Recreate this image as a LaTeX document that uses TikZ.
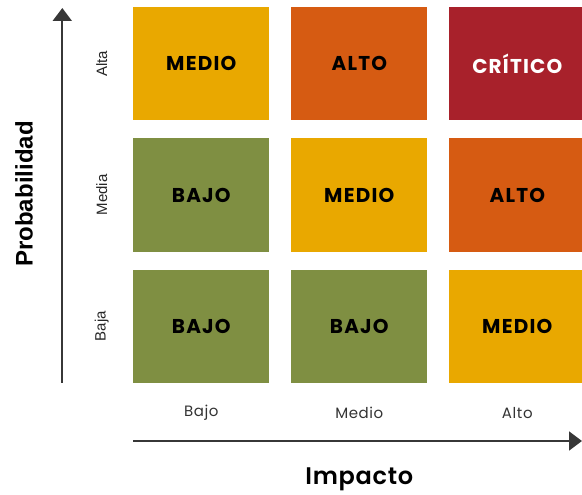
\documentclass[tikz,border=0pt]{standalone}
\usepackage{fontspec}
\setmainfont{Poppins}
\newfontfamily\arialfont{Liberation Sans}
\newfontfamily\mediumfont{Poppins SemiBold}[LetterSpace=3]
\newfontfamily\cellfont{Poppins}[LetterSpace=6]
\newfontfamily\tickfont{Poppins}[LetterSpace=4]
\usetikzlibrary{arrows.meta, positioning}
\definecolor{riskyellow}{RGB}{233,168,0}
\definecolor{riskorange}{RGB}{214,91,18}
\definecolor{riskred}{RGB}{168,33,43}
\definecolor{riskgreen}{RGB}{127,143,66}
\definecolor{axisgray}{RGB}{55,55,55}

\tikzset{
	cell/.style={minimum width=136pt, minimum height=113pt, inner sep=0pt,
		font=\cellfont\fontsize{20}{22}\selectfont\bfseries},
	ticklabel/.style={font=\tickfont\fontsize{15}{17}\selectfont, text=black!80},
	problabel/.style={font=\arialfont\fontsize{15}{17}\selectfont, rotate=90, text=black!85},
	axisline/.style={axisgray, line width=2pt, -{Triangle[width=19pt,length=13pt]}}
}

\begin{document}
\begin{tikzpicture}[x=1pt, y=-1pt]
		\useasboundingbox (0,0) rectangle (582,495);
		
		% cells: column/row/colour/text colour/label
		\foreach \c/\r/\fillc/\txtc/\txt/\name in {
			1/1/riskyellow/black/MEDIO/a11, 2/1/riskorange/black/ALTO/a12, 3/1/riskred/white/CRÍTICO/a13,
			1/2/riskgreen/black/BAJO/a21, 2/2/riskyellow/black/MEDIO/a22, 3/2/riskorange/black/ALTO/a23,
			1/3/riskgreen/black/BAJO/a31, 2/3/riskgreen/black/BAJO/a32, 3/3/riskyellow/black/MEDIO/a33}{
			\node [cell, fill=\fillc, text=\txtc] (\name) at ({43.3+158*\c},{-67.6+131.3*\r}) {\txt};
		}
		
		% axes
		\coordinate (yfoot) at (62.3,382.7);
		\coordinate (ytip) at (62.3,8);
		\coordinate (xfoot) at (133.3,441);
		\coordinate (xtip) at (582,441);
		\draw [axisline] (yfoot) -- (ytip);
		\draw [axisline] (xfoot) -- (xtip);
		
		\node [problabel] (alta) at (101.7,63.7) {Alta};
		\node [problabel] (media) at (101.7,195) {Media};
		\node [problabel] (baja) at (101.7,326.3) {Baja};
		
		\node [ticklabel] (bajo) at (201.3,412.7) {Bajo};
		\node [ticklabel] (medio) at (359.3,412.7) {Medio};
		\node [ticklabel] (alto) at (517.3,412.7) {Alto};
		
		\node [rotate=90, font=\arialfont\bfseries\fontsize{24}{26}\selectfont] (prob) at (24,194) {Probabilidad};
		\node [font=\mediumfont\fontsize{24}{26}\selectfont] (impacto) at (359.3,479) {Impacto};
	\end{tikzpicture}
\end{document}
